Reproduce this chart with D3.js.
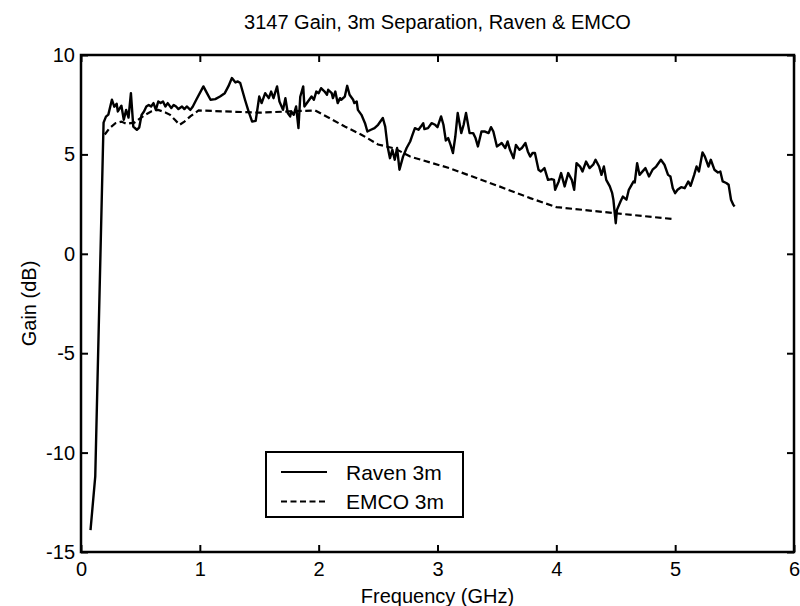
<!DOCTYPE html>
<html><head><meta charset="utf-8">
<script src="https://cdn.jsdelivr.net/npm/d3@7"></script>
<style>body{margin:0;background:#fff}svg{display:block}text{font-family:"Liberation Sans",Arial,sans-serif;fill:#000}</style>
</head><body>
<svg id="c" width="800" height="606"></svg>
<script>
const title = "3147 Gain, 3m Separation, Raven & EMCO";
const xLabel = "Frequency (GHz)";
const yLabel = "Gain (dB)";
const xTicks = [0,1,2,3,4,5,6];
const yTicks = [-15,-10,-5,0,5,10];
const seriesNames = ["Raven 3m","EMCO 3m"];

const ravenFreq = [0.08,0.12,0.185,0.19,0.21,0.23,0.26,0.28,0.30,0.31,0.34,0.36,0.38,0.40,0.42,0.44,0.47,0.49,0.51,0.53,0.55,0.57,0.59,0.61,0.63,0.65,0.67,0.69,0.71,0.73,0.76,0.78,0.80,0.82,0.85,0.87,0.89,0.92,0.94,0.97,1.03,1.06,1.09,1.13,1.17,1.21,1.24,1.27,1.30,1.32,1.34,1.38,1.41,1.44,1.47,1.50,1.52,1.55,1.58,1.60,1.62,1.65,1.67,1.70,1.72,1.74,1.76,1.77,1.79,1.81,1.83,1.845,1.87,1.88,1.91,1.94,1.96,1.98,2.00,2.02,2.05,2.07,2.08,2.11,2.12,2.14,2.16,2.18,2.19,2.22,2.24,2.26,2.29,2.30,2.32,2.33,2.36,2.39,2.41,2.44,2.47,2.50,2.54,2.56,2.58,2.60,2.62,2.64,2.66,2.68,2.71,2.74,2.77,2.79,2.81,2.84,2.86,2.88,2.89,2.92,2.95,2.98,3.00,3.03,3.05,3.07,3.09,3.11,3.13,3.15,3.17,3.20,3.22,3.24,3.27,3.30,3.32,3.34,3.37,3.40,3.43,3.45,3.47,3.50,3.52,3.54,3.57,3.59,3.61,3.64,3.66,3.69,3.71,3.74,3.76,3.78,3.80,3.82,3.85,3.87,3.90,3.93,3.96,3.98,3.99,4.02,4.04,4.07,4.10,4.13,4.15,4.17,4.20,4.22,4.25,4.28,4.31,4.33,4.36,4.38,4.40,4.42,4.45,4.47,4.48,4.50,4.51,4.54,4.56,4.59,4.61,4.65,4.66,4.68,4.70,4.75,4.78,4.81,4.84,4.88,4.91,4.94,4.96,4.98,5.00,5.02,5.05,5.08,5.11,5.13,5.16,5.18,5.20,5.23,5.25,5.28,5.30,5.33,5.36,5.38,5.40,5.43,5.45,5.47,5.49,5.50];
const ravenGain = [-13.9,-11.2,5.4,6.6,6.9,7.0,7.75,7.4,7.55,7.16,7.45,6.74,7.24,6.85,8.08,6.40,6.24,6.35,6.99,7.16,7.41,7.49,7.41,7.58,7.24,7.66,7.58,7.66,7.41,7.58,7.33,7.49,7.41,7.28,7.41,7.28,7.41,7.24,7.4,7.75,8.42,8.08,7.75,7.78,7.91,8.08,8.42,8.84,8.62,8.67,8.59,7.75,7.16,6.65,6.69,7.91,7.58,8.08,7.83,8.16,7.83,8.42,7.66,7.24,7.83,7.08,6.91,7.16,6.99,7.41,6.32,7.9,8.42,7.41,7.66,7.91,7.75,8.16,8.08,8.33,8.16,8.0,8.25,8.08,7.83,8.16,7.58,7.83,7.75,7.91,8.45,8.0,7.75,7.58,7.66,7.24,6.99,6.57,6.15,6.24,6.32,6.49,6.83,6.40,5.40,4.81,5.23,4.73,5.32,4.23,4.89,5.32,5.65,5.99,6.32,6.24,6.40,6.57,6.27,6.32,6.57,6.49,6.37,6.91,6.49,5.70,5.82,5.48,5.07,5.90,7.08,6.07,6.49,7.08,6.07,6.07,5.82,5.40,6.15,6.15,6.07,6.37,6.15,5.40,5.48,5.57,5.32,5.65,5.23,4.81,5.48,5.23,5.32,5.57,5.15,4.89,5.07,5.07,4.23,4.14,4.31,3.72,3.76,3.72,3.22,3.64,4.06,3.39,4.06,3.72,3.22,4.56,4.39,4.14,4.64,4.31,4.48,4.73,4.39,3.97,4.39,3.72,3.39,3.05,2.72,1.54,2.21,2.63,2.88,2.72,3.22,3.64,3.59,4.56,3.97,4.31,3.89,4.23,4.39,4.73,4.48,3.97,3.89,3.30,3.05,3.22,3.35,3.30,3.64,3.42,3.97,4.39,4.14,5.10,4.89,4.39,4.73,4.23,4.09,4.14,3.64,3.56,3.47,2.72,2.46,2.38];

const emcoFreq = [0.20,0.24,0.29,0.34,0.38,0.45,0.50,0.54,0.59,0.65,0.71,0.75,0.79,0.83,0.87,0.92,0.99,1.5,1.75,1.97,2.09,2.22,2.36,2.50,2.64,2.77,3.10,3.52,3.78,4.00,4.48,4.98];
const emcoGain = [6.0,6.32,6.57,6.65,6.54,6.6,6.83,6.99,7.16,7.24,7.11,6.99,6.74,6.49,6.65,6.91,7.21,7.1,7.16,7.21,6.83,6.40,5.99,5.5,5.3,4.89,4.31,3.39,2.8,2.35,2.05,1.75];

const svg = d3.select("#c");
const L=81,R=794,T=55,B=552;
const x = d3.scaleLinear().domain([0,6]).range([L,R]);
const y = d3.scaleLinear().domain([-15,10]).range([B,T]);

const line = d3.line().x(d=>x(d[0])).y(d=>y(d[1]));
const raven = ravenFreq.map((f,i)=>[f,ravenGain[i]]);
const emco = emcoFreq.map((f,i)=>[f,emcoGain[i]]);

svg.append("path").datum(emco).attr("d",line).attr("fill","none").attr("stroke","#000")
  .attr("stroke-width",2.2).attr("stroke-dasharray","6.5,3.5");
svg.append("path").datum(raven).attr("d",line).attr("fill","none").attr("stroke","#000")
  .attr("stroke-width",2.4).attr("stroke-linejoin","round");

// axes with inward ticks
const tk = 7;
const fs = 20;
const gB = svg.append("g").attr("transform",`translate(0,${B})`)
  .call(d3.axisBottom(x).tickValues(xTicks).tickSize(-tk).tickPadding(10).tickFormat(d=>String(d)));
const gT = svg.append("g").attr("transform",`translate(0,${T})`)
  .call(d3.axisTop(x).tickValues(xTicks).tickSize(-tk).tickFormat(""));
const gL = svg.append("g").attr("transform",`translate(${L},0)`)
  .call(d3.axisLeft(y).tickValues(yTicks).tickSize(-tk).tickPadding(6).tickFormat(d=>String(d)));
const gR = svg.append("g").attr("transform",`translate(${R},0)`)
  .call(d3.axisRight(y).tickValues(yTicks).tickSize(-tk).tickFormat(""));
[gB,gT,gL,gR].forEach(g=>{
  g.select(".domain").remove();
  g.selectAll(".tick line").attr("stroke","#000").attr("stroke-width",2);
  g.selectAll("text").attr("font-size",fs).attr("font-family","Liberation Sans, Arial, sans-serif").attr("fill","#000");
});
gB.selectAll("text").attr("dy","0.71em");
svg.append("rect").attr("x",L).attr("y",T).attr("width",R-L).attr("height",B-T)
  .attr("fill","none").attr("stroke","#000").attr("stroke-width",2.5);

// titles
svg.append("text").attr("x",(L+R)/2).attr("y",29).attr("text-anchor","middle").attr("font-size",20).text(title);
svg.append("text").attr("x",(L+R)/2).attr("y",603).attr("text-anchor","middle").attr("font-size",20).text(xLabel);
svg.append("text").attr("transform",`translate(36,${(T+B)/2}) rotate(-90)`).attr("text-anchor","middle").attr("font-size",20).text(yLabel);

// legend
const lg = svg.append("g");
lg.append("rect").attr("x",266).attr("y",452).attr("width",197).attr("height",65)
  .attr("fill","#fff").attr("stroke","#000").attr("stroke-width",2);
const styles = [null,"6,3.5"];
seriesNames.forEach((n,i)=>{
  const yy = 472 + i*29.5;
  const l = lg.append("line").attr("x1",281).attr("x2",327).attr("y1",yy).attr("y2",yy)
    .attr("stroke","#000").attr("stroke-width",2);
  if(styles[i]) l.attr("stroke-dasharray",styles[i]);
  lg.append("text").attr("x",346).attr("y",yy+7.5).attr("font-size",21).text(n);
});
</script>
</body></html>
